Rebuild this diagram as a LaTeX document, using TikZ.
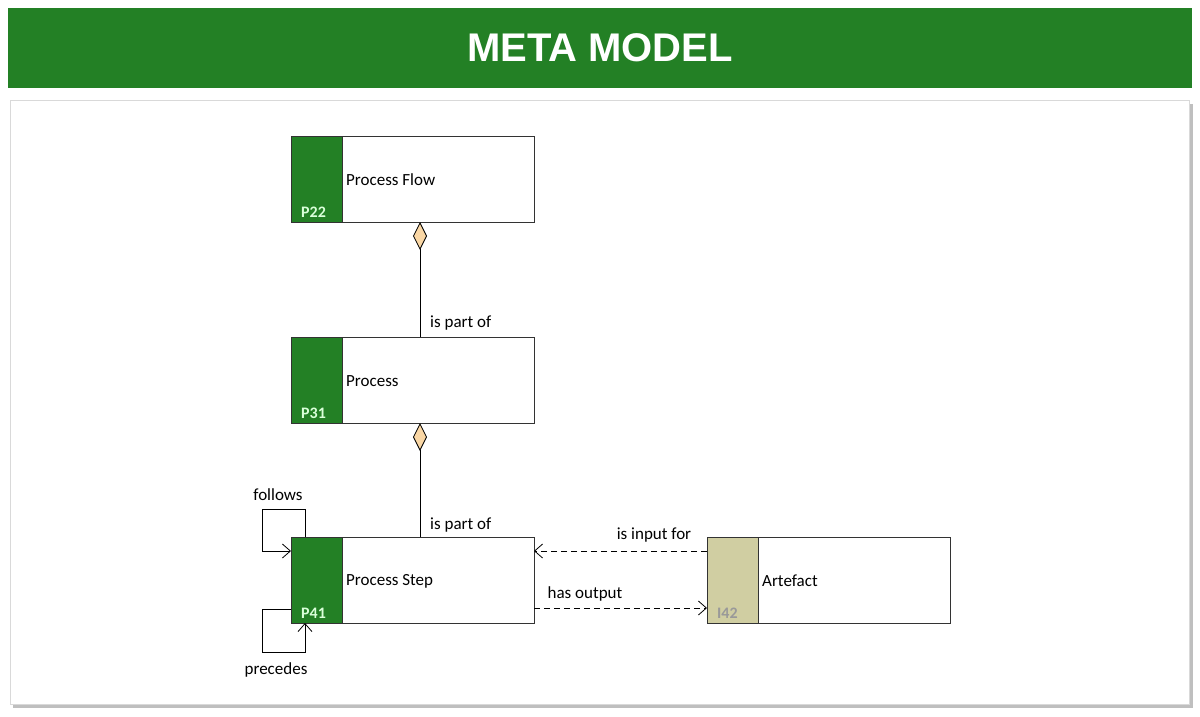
\documentclass[tikz,border=0pt]{standalone}
\usepackage{fontspec}
\setmainfont{Carlito}
\newfontfamily\titlefont{Liberation Sans}
\usetikzlibrary{shapes.geometric,arrows.meta}
\definecolor{dg}{RGB}{35,128,37}
\definecolor{tan}{RGB}{208,206,162}
\definecolor{dia}{RGB}{250,215,165}
\begin{document}
\begin{tikzpicture}[x=1pt,y=-1pt,
  box/.style={draw=black!80,line width=0.8pt,fill=white},
  lbl/.style={font=\fontsize{17}{18}\selectfont,inner sep=0pt},
  open/.style={-{Straight Barb[length=8pt,width=14pt]}},
  comp/.style={{Diamond[length=28pt,width=14pt,fill=dia]}-,line width=0.8pt},
  dep/.style={dashed,dash pattern=on 6pt off 4pt,line width=0.8pt,-{Straight Barb[length=8pt,width=14pt]}}]
\useasboundingbox (0,0) rectangle (1200,716);
\fill[white] (0,0) rectangle (1200,716);
\fill[dg] (8,8) rectangle (1192,88);
\node[font=\titlefont\bfseries\fontsize{40}{44}\selectfont,text=white] (title) at (600,48) {META MODEL};
\fill[black!25] (13,104) rectangle (1193,708);
\draw[black!15,fill=white] (10,100) rectangle (1189,704);
% boxes
\newcommand\umlbox[6]{%
 \draw[box] (#1,#2) rectangle (#1+243,#2+86);
 \fill[#5] (#1,#2) rectangle (#1+51,#2+86);
 \draw[black!80,line width=0.8pt] (#1,#2) rectangle (#1+243,#2+86) (#1+51,#2)--(#1+51,#2+86);
 \node[lbl,anchor=west] (#6) at (#1+55,#2+44) {#3};
 \node[lbl,anchor=south west,text=#4] at (#1+10,#2+82) {\fontsize{16}{18}\selectfont\bfseries #6};
 \coordinate (#6-c) at (#1+121,#2+43);}
\umlbox{291}{136}{Process Flow}{white!85!green}{dg}{P22}
\umlbox{291}{337}{Process}{white!85!green}{dg}{P31}
\umlbox{291}{537}{Process Step}{white!85!green}{dg}{P41}
\umlbox{707}{537}{Artefact}{black!40}{tan}{I42}
\coordinate (d1) at (420,222);
\coordinate (e1) at (420,337);
\coordinate (d2) at (420,423);
\coordinate (e2) at (420,537);
\draw[comp] (d1) -- (e1);
\draw[comp] (d2) -- (e2);
\node[lbl,anchor=south west] (l1) at (430,330) {is part of};
\node[lbl,anchor=south west] (l2) at (430,532) {is part of};
% loops
\draw[line width=0.8pt,open] (305,537) |- (262,509) |- (291,551);
\node[lbl] (fol) at (278,495) {follows};
\draw[line width=0.8pt,open] (291,609) -| (262,652) -| (305,623);
\node[lbl] (pre) at (276,670) {precedes};
% dependencies
\draw[dep] (707,551) -- (534,551);
\node[lbl] (inp) at (654,535) {is input for};
\draw[dep] (534,608) -- (707,608);
\node[lbl] (outp) at (585,594) {has output};
\end{tikzpicture}
\end{document}
